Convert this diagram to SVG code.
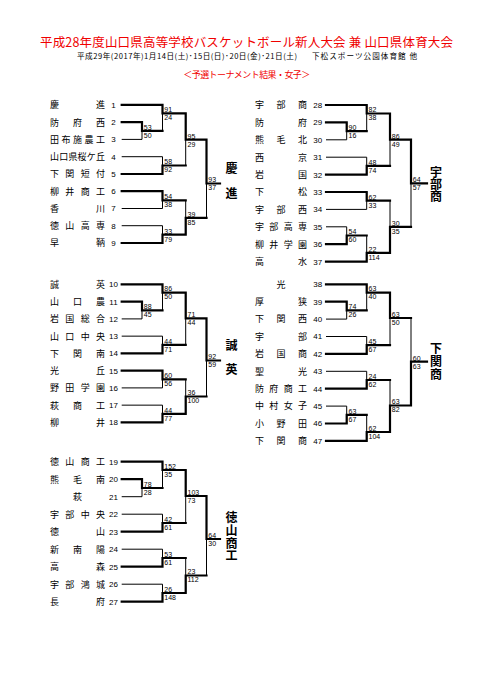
<svg xmlns="http://www.w3.org/2000/svg" width="481" height="680" viewBox="0 0 481 680">
<style>
.ttl{font-family:"Noto Sans CJK JP","Noto Sans",sans-serif;fill:#f00000}
.sub{font-family:"Noto Sans CJK JP","Noto Sans",sans-serif;font-size:7.6px;fill:#000}
.nm{font-family:"Noto Sans CJK JP","Noto Sans",sans-serif;font-size:9px;fill:#000}
.no{font-family:"Liberation Sans",Arial,sans-serif;font-size:8px;fill:#000;text-anchor:middle}
.sc{font-family:"Liberation Sans",Arial,sans-serif;font-size:7px;fill:#000}
.win{font-family:"Noto Sans CJK JP","Noto Sans",sans-serif;font-size:12px;font-weight:bold;fill:#000;writing-mode:vertical-rl}
.t{fill:none;stroke:#000;stroke-width:1}
.k{fill:none;stroke:#000;stroke-width:2.2;stroke-linejoin:miter;stroke-linecap:square}
</style>
<rect width="481" height="680" fill="#fff"/>
<g id="header">
<text class="ttl" x="40" y="46.6" font-size="12.5" textLength="413" lengthAdjust="spacing">平成28年度山口県高等学校バスケットボール新人大会 兼 山口県体育大会</text>
<text class="sub" x="77" y="59.1" textLength="220" lengthAdjust="spacing">平成29年(2017年)1月14日(土)･15日(日)･20日(金)･21日(土)</text>
<text class="sub" x="312" y="59.1" textLength="105" lengthAdjust="spacing">下松スポーツ公園体育館 他</text>
<text class="ttl" x="183.3" y="77.8" font-size="9" textLength="127" lengthAdjust="spacing">＜予選トーナメント結果・女子＞</text>
</g>
<g id="connectors">
<g id="thin">
<path class="t" d="M121.7 139.4H142M121.7 156.7H162.5M121.7 208.5H162.5M121.7 225.7H162.5M142 122.2V139.4M162.5 104.9V130.8M162.5 156.7V174M162.5 191.2V208.5M162.5 225.7V243M185.7 113.3V165.5M185.7 200.3V234.7M206.5 139.7V217.8"/>
<path class="t" d="M326 139.8H346.7M326 157.2H366.7M326 209.4H366.7M326 226.8H346.7M346.7 122.4V139.8M366.7 105V131.1M366.7 157.2V174.6M366.7 192V209.4M346.7 226.8V244.2M366.7 235.5V261.6M390 113.5V165.9M390 200.7V252.9M411 139.7V226.8"/>
<path class="t" d="M121.7 318.9H142M121.7 336.15H162.5M121.7 387.9H162.5M121.7 405.15H162.5M142 301.65V318.9M162.5 284.4V310.3M162.5 336.15V353.4M162.5 370.65V387.9M162.5 405.15V422.4M185.7 292.6V344.8M185.7 379.3V413.8M206.5 318.3V396.5"/>
<path class="t" d="M326 319.1H346.7M326 336.5H366.7M326 371.3H366.7M326 406.1H346.7M346.7 301.7V319.1M366.7 284.3V310.4M366.7 336.5V353.9M366.7 371.3V388.7M346.7 406.1V423.5M366.7 414.8V440.9M390 292.6V345.2M390 380V432M411 318V405.5"/>
<path class="t" d="M121.7 496.7H142M121.7 514.2H162.5M121.7 549.2H162.5M121.7 584.2H162.5M142 479.2V496.7M162.5 461.7V488M162.5 514.2V531.7M162.5 549.2V566.7M162.5 584.2V601.7M185.7 470V523M185.7 558V593M206.5 496V575.5"/>
</g>
<g id="thick">
<path class="k" d="M121.7 104.9H162.5V113.3H185.7V139.7H206.5V183.5H220"/>
<path class="k" d="M121.7 122.2H142V130.8H162.5"/>
<path class="k" d="M121.7 174H162.5V165.5H185.7"/>
<path class="k" d="M121.7 191.2H162.5V200.3H185.7"/>
<path class="k" d="M121.7 243H162.5V234.7H185.7V217.8H206.5"/>
<path class="k" d="M326 105H366.7V113.5H390V139.7H411V183.3H427"/>
<path class="k" d="M326 122.4H346.7V131.1H366.7"/>
<path class="k" d="M326 174.6H366.7V165.9H390"/>
<path class="k" d="M326 192H366.7V200.7H390"/>
<path class="k" d="M326 244.2H346.7V235.5H366.7"/>
<path class="k" d="M326 261.6H366.7V252.9H390V226.8H411"/>
<path class="k" d="M121.7 284.4H162.5V292.6H185.7V318.3H206.5V360.5H220"/>
<path class="k" d="M121.7 301.65H142V310.3H162.5"/>
<path class="k" d="M121.7 353.4H162.5V344.8H185.7"/>
<path class="k" d="M121.7 370.65H162.5V379.3H185.7"/>
<path class="k" d="M121.7 422.4H162.5V413.8H185.7V396.5H206.5"/>
<path class="k" d="M326 284.3H366.7V292.6H390V318H411"/>
<path class="k" d="M326 301.7H346.7V310.4H366.7"/>
<path class="k" d="M326 353.9H366.7V345.2H390"/>
<path class="k" d="M326 388.7H366.7V380H390"/>
<path class="k" d="M326 423.5H346.7V414.8H366.7"/>
<path class="k" d="M326 440.9H366.7V432H390V405.5H411V361.7H427"/>
<path class="k" d="M121.7 461.7H162.5V470H185.7V496H206.5V539H220"/>
<path class="k" d="M121.7 479.2H142V488H162.5"/>
<path class="k" d="M121.7 531.7H162.5V523H185.7"/>
<path class="k" d="M121.7 566.7H162.5V558H185.7"/>
<path class="k" d="M121.7 601.7H162.5V593H185.7V575.5H206.5"/>
</g>
</g>
<g id="scores">
<text class="sc" x="143.8" y="129.6">53</text><text class="sc" x="143.8" y="137.6">50</text>
<text class="sc" x="164.3" y="112.1">91</text><text class="sc" x="164.3" y="120.1">24</text>
<text class="sc" x="164.3" y="164.3">58</text><text class="sc" x="164.3" y="172.3">92</text>
<text class="sc" x="187.5" y="138.5">95</text><text class="sc" x="187.5" y="146.5">29</text>
<text class="sc" x="164.3" y="199.1">54</text><text class="sc" x="164.3" y="207.1">38</text>
<text class="sc" x="164.3" y="233.5">33</text><text class="sc" x="164.3" y="241.5">79</text>
<text class="sc" x="187.5" y="216.6">39</text><text class="sc" x="187.5" y="224.6">85</text>
<text class="sc" x="208.3" y="182.3">93</text><text class="sc" x="208.3" y="190.3">37</text>
<text class="sc" x="348.5" y="129.9">90</text><text class="sc" x="348.5" y="137.9">16</text>
<text class="sc" x="368.5" y="112.3">82</text><text class="sc" x="368.5" y="120.3">38</text>
<text class="sc" x="368.5" y="164.7">48</text><text class="sc" x="368.5" y="172.7">74</text>
<text class="sc" x="391.8" y="138.5">86</text><text class="sc" x="391.8" y="146.5">49</text>
<text class="sc" x="368.5" y="199.5">62</text><text class="sc" x="368.5" y="207.5">33</text>
<text class="sc" x="348.5" y="234.3">54</text><text class="sc" x="348.5" y="242.3">60</text>
<text class="sc" x="368.5" y="251.7">22</text><text class="sc" x="368.5" y="259.7">114</text>
<text class="sc" x="391.8" y="225.6">30</text><text class="sc" x="391.8" y="233.6">35</text>
<text class="sc" x="412.8" y="182.1">64</text><text class="sc" x="412.8" y="190.1">57</text>
<text class="sc" x="143.8" y="309.1">88</text><text class="sc" x="143.8" y="317.1">45</text>
<text class="sc" x="164.3" y="291.4">86</text><text class="sc" x="164.3" y="299.4">50</text>
<text class="sc" x="164.3" y="343.6">44</text><text class="sc" x="164.3" y="351.6">71</text>
<text class="sc" x="187.5" y="317.1">71</text><text class="sc" x="187.5" y="325.1">44</text>
<text class="sc" x="164.3" y="378.1">60</text><text class="sc" x="164.3" y="386.1">56</text>
<text class="sc" x="164.3" y="412.6">44</text><text class="sc" x="164.3" y="420.6">77</text>
<text class="sc" x="187.5" y="395.3">36</text><text class="sc" x="187.5" y="403.3">100</text>
<text class="sc" x="208.3" y="359.3">92</text><text class="sc" x="208.3" y="367.3">59</text>
<text class="sc" x="348.5" y="309.2">74</text><text class="sc" x="348.5" y="317.2">26</text>
<text class="sc" x="368.5" y="291.4">63</text><text class="sc" x="368.5" y="299.4">40</text>
<text class="sc" x="368.5" y="344">45</text><text class="sc" x="368.5" y="352">67</text>
<text class="sc" x="391.8" y="316.8">63</text><text class="sc" x="391.8" y="324.8">50</text>
<text class="sc" x="368.5" y="378.8">24</text><text class="sc" x="368.5" y="386.8">62</text>
<text class="sc" x="348.5" y="413.6">63</text><text class="sc" x="348.5" y="421.6">67</text>
<text class="sc" x="368.5" y="430.8">62</text><text class="sc" x="368.5" y="438.8">104</text>
<text class="sc" x="391.8" y="404.3">63</text><text class="sc" x="391.8" y="412.3">82</text>
<text class="sc" x="412.8" y="360.5">60</text><text class="sc" x="412.8" y="368.5">63</text>
<text class="sc" x="143.8" y="486.8">78</text><text class="sc" x="143.8" y="494.8">28</text>
<text class="sc" x="164.3" y="468.8">152</text><text class="sc" x="164.3" y="476.8">35</text>
<text class="sc" x="164.3" y="521.8">42</text><text class="sc" x="164.3" y="529.8">61</text>
<text class="sc" x="187.5" y="494.8">103</text><text class="sc" x="187.5" y="502.8">73</text>
<text class="sc" x="164.3" y="556.8">53</text><text class="sc" x="164.3" y="564.8">61</text>
<text class="sc" x="164.3" y="591.8">26</text><text class="sc" x="164.3" y="599.8">148</text>
<text class="sc" x="187.5" y="574.3">23</text><text class="sc" x="187.5" y="582.3">112</text>
<text class="sc" x="208.3" y="537.8">64</text><text class="sc" x="208.3" y="545.8">30</text>
</g>
<g id="team-01"><text class="nm" x="50 96" y="108.2">慶進</text><text class="no" x="113.5" y="107.8">1</text></g>
<g id="team-02"><text class="nm" x="50 73 96" y="125.5">防府西</text><text class="no" x="113.5" y="125.1">2</text></g>
<g id="team-03"><text class="nm" x="50 61.5 73 84.5 96" y="142.7">田布施農工</text><text class="no" x="113.5" y="142.3">3</text></g>
<g id="team-04"><text class="nm" x="50 59.2 68.4 77.6 86.8 96" y="160">山口県桜ケ丘</text><text class="no" x="113.5" y="159.6">4</text></g>
<g id="team-05"><text class="nm" x="50 65.3 80.7 96" y="177.3">下関短付</text><text class="no" x="113.5" y="176.9">5</text></g>
<g id="team-06"><text class="nm" x="50 65.3 80.7 96" y="194.5">柳井商工</text><text class="no" x="113.5" y="194.1">6</text></g>
<g id="team-07"><text class="nm" x="50 96" y="211.8">香川</text><text class="no" x="113.5" y="211.4">7</text></g>
<g id="team-08"><text class="nm" x="50 65.3 80.7 96" y="229">徳山高専</text><text class="no" x="113.5" y="228.6">8</text></g>
<g id="team-09"><text class="nm" x="50 96" y="246.3">早鞆</text><text class="no" x="113.5" y="245.9">9</text></g>
<g id="team-10"><text class="nm" x="50 96" y="287.7">誠英</text><text class="no" x="113.5" y="287.3">10</text></g>
<g id="team-11"><text class="nm" x="50 73 96" y="305">山口農</text><text class="no" x="113.5" y="304.6">11</text></g>
<g id="team-12"><text class="nm" x="50 65.3 80.7 96" y="322.2">岩国総合</text><text class="no" x="113.5" y="321.8">12</text></g>
<g id="team-13"><text class="nm" x="50 65.3 80.7 96" y="339.5">山口中央</text><text class="no" x="113.5" y="339.1">13</text></g>
<g id="team-14"><text class="nm" x="50 73 96" y="356.7">下関南</text><text class="no" x="113.5" y="356.3">14</text></g>
<g id="team-15"><text class="nm" x="50 96" y="374">光丘</text><text class="no" x="113.5" y="373.6">15</text></g>
<g id="team-16"><text class="nm" x="50 65.3 80.7 96" y="391.2">野田学園</text><text class="no" x="113.5" y="390.8">16</text></g>
<g id="team-17"><text class="nm" x="50 73 96" y="408.5">萩商工</text><text class="no" x="113.5" y="408.1">17</text></g>
<g id="team-18"><text class="nm" x="50 96" y="425.7">柳井</text><text class="no" x="113.5" y="425.3">18</text></g>
<g id="team-19"><text class="nm" x="50 65.3 80.7 96" y="465">徳山商工</text><text class="no" x="113.5" y="464.6">19</text></g>
<g id="team-20"><text class="nm" x="50 73 96" y="482.5">熊毛南</text><text class="no" x="113.5" y="482.1">20</text></g>
<g id="team-21"><text class="nm" x="73" y="500">萩</text><text class="no" x="113.5" y="499.6">21</text></g>
<g id="team-22"><text class="nm" x="50 65.3 80.7 96" y="517.5">宇部中央</text><text class="no" x="113.5" y="517.1">22</text></g>
<g id="team-23"><text class="nm" x="50 96" y="535">徳山</text><text class="no" x="113.5" y="534.6">23</text></g>
<g id="team-24"><text class="nm" x="50 73 96" y="552.5">新南陽</text><text class="no" x="113.5" y="552.1">24</text></g>
<g id="team-25"><text class="nm" x="50 96" y="570">高森</text><text class="no" x="113.5" y="569.6">25</text></g>
<g id="team-26"><text class="nm" x="50 65.3 80.7 96" y="587.5">宇部鴻城</text><text class="no" x="113.5" y="587.1">26</text></g>
<g id="team-27"><text class="nm" x="50 96" y="605">長府</text><text class="no" x="113.5" y="604.6">27</text></g>
<g id="team-28"><text class="nm" x="255 276.5 298" y="108.3">宇部商</text><text class="no" x="317.7" y="107.9">28</text></g>
<g id="team-29"><text class="nm" x="255 298" y="125.7">防府</text><text class="no" x="317.7" y="125.3">29</text></g>
<g id="team-30"><text class="nm" x="255 276.5 298" y="143.1">熊毛北</text><text class="no" x="317.7" y="142.7">30</text></g>
<g id="team-31"><text class="nm" x="255 298" y="160.5">西京</text><text class="no" x="317.7" y="160.1">31</text></g>
<g id="team-32"><text class="nm" x="255 298" y="177.9">岩国</text><text class="no" x="317.7" y="177.5">32</text></g>
<g id="team-33"><text class="nm" x="255 298" y="195.3">下松</text><text class="no" x="317.7" y="194.9">33</text></g>
<g id="team-34"><text class="nm" x="255 276.5 298" y="212.7">宇部西</text><text class="no" x="317.7" y="212.3">34</text></g>
<g id="team-35"><text class="nm" x="255 269.3 283.7 298" y="230.1">宇部高専</text><text class="no" x="317.7" y="229.7">35</text></g>
<g id="team-36"><text class="nm" x="255 269.3 283.7 298" y="247.5">柳井学園</text><text class="no" x="317.7" y="247.1">36</text></g>
<g id="team-37"><text class="nm" x="255 298" y="264.9">高水</text><text class="no" x="317.7" y="264.5">37</text></g>
<g id="team-38"><text class="nm" x="276.5" y="287.6">光</text><text class="no" x="317.7" y="287.2">38</text></g>
<g id="team-39"><text class="nm" x="255 298" y="305">厚狭</text><text class="no" x="317.7" y="304.6">39</text></g>
<g id="team-40"><text class="nm" x="255 276.5 298" y="322.4">下関西</text><text class="no" x="317.7" y="322">40</text></g>
<g id="team-41"><text class="nm" x="255 298" y="339.8">宇部</text><text class="no" x="317.7" y="339.4">41</text></g>
<g id="team-42"><text class="nm" x="255 276.5 298" y="357.2">岩国商</text><text class="no" x="317.7" y="356.8">42</text></g>
<g id="team-43"><text class="nm" x="255 298" y="374.6">聖光</text><text class="no" x="317.7" y="374.2">43</text></g>
<g id="team-44"><text class="nm" x="255 269.3 283.7 298" y="392">防府商工</text><text class="no" x="317.7" y="391.6">44</text></g>
<g id="team-45"><text class="nm" x="255 269.3 283.7 298" y="409.4">中村女子</text><text class="no" x="317.7" y="409">45</text></g>
<g id="team-46"><text class="nm" x="255 276.5 298" y="426.8">小野田</text><text class="no" x="317.7" y="426.4">46</text></g>
<g id="team-47"><text class="nm" x="255 276.5 298" y="444.2">下関商</text><text class="no" x="317.7" y="443.8">47</text></g>
<g id="winner-a"><text class="win" x="231.5" y="162" letter-spacing="13">慶進</text></g>
<g id="winner-b"><text class="win" x="436" y="166" letter-spacing="0.3">宇部商</text></g>
<g id="winner-c"><text class="win" x="231.5" y="339" letter-spacing="12">誠英</text></g>
<g id="winner-d"><text class="win" x="436" y="342" letter-spacing="1">下関商</text></g>
<g id="winner-e"><text class="win" x="231.5" y="511.5" letter-spacing="0.8">徳山商工</text></g>
</svg>
